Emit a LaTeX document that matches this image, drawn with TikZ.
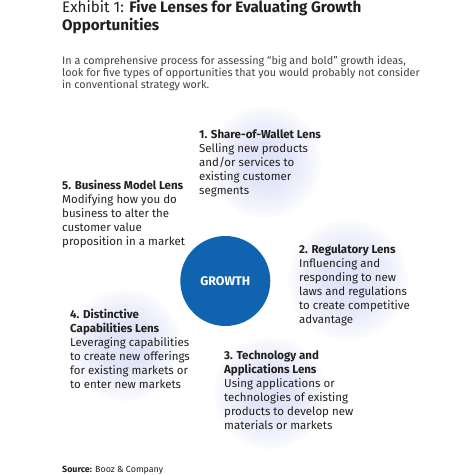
\documentclass[tikz,border=0pt]{standalone}
\usepackage{fontspec}
\setmainfont{Fira Sans}
\definecolor{growthblue}{RGB}{16,99,175}
\definecolor{lav}{RGB}{200,206,242}
\definecolor{txt}{RGB}{35,31,32}
\begin{document}
\begin{tikzpicture}[x=1pt,y=-1pt,
  lenstext/.style={anchor=base west,inner sep=0pt,align=left,text=txt,
    font=\fontsize{11.5}{14.1}\selectfont},
  glow/.style={fill=lav,fill opacity=0.075,draw=none}]
\useasboundingbox (0,0) rectangle (468,475);
% faint glows
\foreach \cx/\cy/\r in {265/162/56,348/280/60,270/393/56,125/345/56}{
  \foreach \k in {0,...,9}{
    \fill[glow] (\cx,\cy) circle ({\r*(1-0.07*\k)});
  }
}
% title
\node[anchor=base west,inner sep=0pt,align=left,text=txt,
  font=\fontsize{15.2}{18.4}\selectfont] (title) at (62,30.7)
  {Exhibit 1: \textbf{Five Lenses for Evaluating Growth}\\\textbf{Opportunities}};
\node[anchor=base west,inner sep=0pt,align=left,text=txt!85,
  font=\fontsize{10.8}{12}\selectfont] (intro) at (62,88)
  {In a comprehensive process for assessing “big and bold” growth ideas,\\
   look for five types of opportunities that you would probably not consider\\
   in conventional strategy work.};
% growth
\node[circle,fill=growthblue,minimum size=90pt,inner sep=0pt,text=white,
  font=\fontsize{12.5}{14}\selectfont\bfseries] (growth) at (225.3,281) {GROWTH};
% lenses
\node[lenstext] (l1) at (199,194.4)
  {\textbf{1. Share-of-Wallet Lens}\\Selling new products\\and/or services to\\existing customer\\segments};
\node[lenstext] (l2) at (299,323.5)
  {\textbf{2. Regulatory Lens}\\Influencing and\\responding to new\\laws and regulations\\to create competitive\\advantage};
\node[lenstext] (l3) at (224,429.5)
  {\textbf{3. Technology and}\\\textbf{Applications Lens}\\Using applications or\\technologies of existing\\products to develop new\\materials or markets};
\node[lenstext] (l4) at (70,388.5)
  {\textbf{4. Distinctive}\\\textbf{Capabilities Lens}\\Leveraging capabilities\\to create new offerings\\for existing markets or\\to enter new markets};
\node[lenstext] (l5) at (62,245.4)
  {\textbf{5. Business Model Lens}\\Modifying how you do\\business to alter the\\customer value\\proposition in a market};
% source
\node[anchor=base west,inner sep=0pt,text=txt,font=\fontsize{8.9}{10}\selectfont]
  (src) at (62,472.5) {\textbf{Source:} Booz \& Company};
\end{tikzpicture}
\end{document}
